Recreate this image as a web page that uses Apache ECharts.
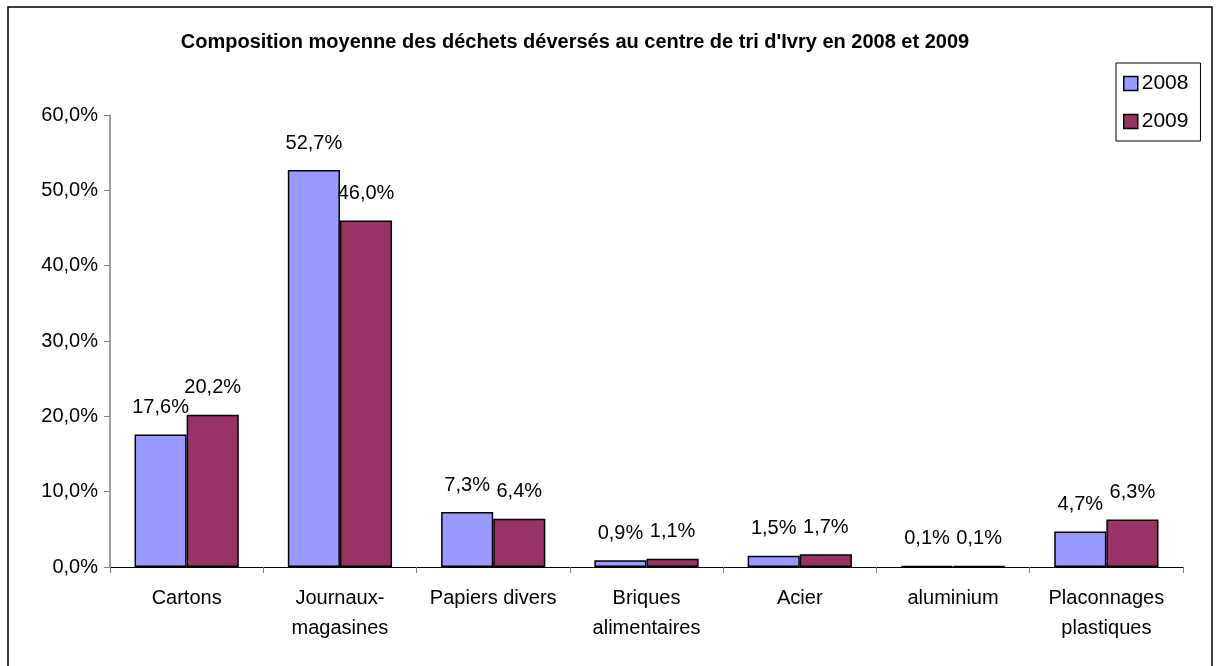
<!DOCTYPE html>
<html>
<head>
<meta charset="utf-8">
<script src="https://cdn.jsdelivr.net/npm/echarts@6/dist/echarts.min.js"></script>
<style>
  html, body { margin: 0; padding: 0; background: #fff; }
  #chart { width: 1216px; height: 666px; }
</style>
</head>
<body>
<div id="chart"></div>
<script>
// données
const categories = ['Cartons', 'Journaux-\nmagasines', 'Papiers divers', 'Briques\nalimentaires', 'Acier', 'aluminium', 'Placonnages\nplastiques']
const values2008 = [17.6, 52.7, 7.3, 0.9, 1.5, 0.1, 4.7]
const values2009 = [20.2, 46.0, 6.4, 1.1, 1.7, 0.1, 6.3]
const yTicks = [0, 10, 20, 30, 40, 50, 60]

const font = 'Liberation Sans, Arial, sans-serif'
const pct = v => v.toFixed(1).replace('.', ',') + '%'

const chart = echarts.init(document.getElementById('chart'))

function barSeries(name, data, color) {
  return {
    name: name,
    type: 'bar',
    data: data,
    barGap: '0%',
    barCategoryGap: '32%',
    itemStyle: { color: color, borderColor: '#000', borderWidth: 1.5 },
    label: {
      show: true,
      position: 'top',
      distance: 17,
      color: '#000',
      fontFamily: font,
      fontSize: 20,
      formatter: p => pct(p.value)
    }
  }
}

chart.setOption({
  animation: false,
  title: {
    text: "Composition moyenne des déchets déversés au centre de tri d'Ivry en 2008 et 2009",
    left: 570,
    textAlign: 'center',
    top: 27,
    textStyle: { fontFamily: font, fontSize: 20, fontWeight: 'bold', color: '#000' }
  },
  legend: {
    data: ['2008', '2009'],
    orient: 'vertical',
    left: 1116,
    top: 63,
    width: 85,
    padding: [10, 12, 9, 7],
    itemGap: 17,
    itemWidth: 14,
    itemHeight: 14,
    icon: 'rect',
    borderColor: '#000',
    borderWidth: 1,
    itemStyle: { borderColor: '#000', borderWidth: 1.5 },
    textStyle: { fontFamily: font, fontSize: 21, color: '#000', padding: [0, 0, 0, -1] }
  },
  grid: { left: 110, right: 33, top: 115, bottom: 99 },
  xAxis: {
    type: 'category',
    data: categories,
    axisLine: { lineStyle: { color: '#000', width: 1 } },
    axisTick: { show: true, length: 6, lineStyle: { color: '#808080' } },
    axisLabel: { color: '#000', fontFamily: font, fontSize: 20, margin: 16, lineHeight: 30, interval: 0 }
  },
  yAxis: {
    type: 'value',
    min: yTicks[0],
    max: yTicks[yTicks.length - 1],
    interval: 10,
    splitLine: { show: false },
    axisLine: { show: true, lineStyle: { color: '#808080', width: 1.5 } },
    axisTick: { show: true, length: 6, lineStyle: { color: '#808080' } },
    axisLabel: { color: '#000', fontFamily: font, fontSize: 20, margin: 12, formatter: v => pct(v) }
  },
  series: [
    barSeries('2008', values2008, '#9999FF'),
    barSeries('2009', values2009, '#993366')
  ],
  graphic: [{
    type: 'rect',
    shape: { x: 8, y: 7, width: 1204, height: 700 },
    style: { fill: 'none', stroke: '#000', lineWidth: 1.5 },
    silent: true
  }]
})
</script>
</body>
</html>
